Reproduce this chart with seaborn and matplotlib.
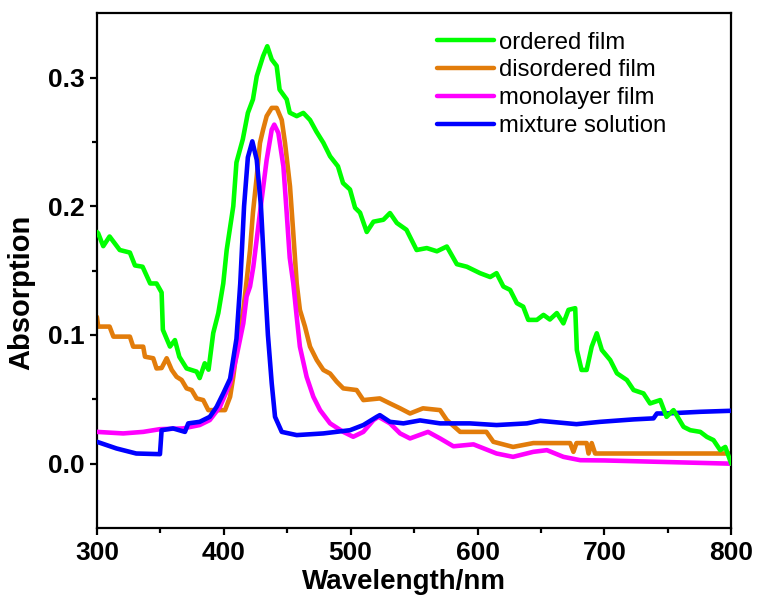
# Imports
import numpy as np
import pandas as pd
import matplotlib
matplotlib.use("Agg")
import matplotlib.pyplot as plt
from matplotlib.ticker import MultipleLocator, FormatStrFormatter
import seaborn as sns

# Dados (comprimento de onda em nm, absorcao)
ordered_x = [300, 301, 305, 310, 318, 326, 330, 336, 342, 347, 351, 352, 357.6, 361.5, 365, 370.7,
             378.6, 381, 385, 388, 391.7, 395.7, 399.6, 402.3, 407.5, 410, 415, 419, 423, 426, 431,
             434.3, 437.8, 441.7, 444, 449.6, 452, 457.5, 462.7, 468, 473, 478.5, 483.8, 490, 494,
             499.5, 503.5, 507.4, 512.7, 518, 525.8, 531, 536.4, 544, 552, 560, 568, 575.8, 583.7,
             591.6, 602, 610, 615, 620.4, 625.7, 631, 636, 640, 646.8, 652, 657, 662.5, 667.7, 671.7,
             677, 678.3, 682, 686, 690, 694, 698, 704.6, 709.9, 717.7, 723, 730.8, 736, 744, 749,
             754.5, 762.4, 767.7, 775.6, 780.8, 786, 791.3, 795.3, 800]
ordered_y = [0.180, 0.179, 0.169, 0.1765, 0.166, 0.164, 0.154, 0.153, 0.140, 0.140, 0.133, 0.104,
             0.091, 0.096, 0.083, 0.074, 0.0715, 0.0665, 0.078, 0.073, 0.1015, 0.117, 0.140, 0.166,
             0.200, 0.234, 0.252, 0.2725, 0.283, 0.301, 0.3166, 0.3243, 0.314, 0.309, 0.2906, 0.283,
             0.2727, 0.270, 0.2725, 0.267, 0.258, 0.2493, 0.2388, 0.231, 0.218, 0.213, 0.1988, 0.195,
             0.180, 0.188, 0.1895, 0.1947, 0.187, 0.1817, 0.166, 0.1675, 0.165, 0.1687, 0.155, 0.153,
             0.148, 0.145, 0.148, 0.1376, 0.135, 0.1247, 0.122, 0.1117, 0.1117, 0.1156, 0.112, 0.117,
             0.109, 0.1195, 0.1208, 0.0883, 0.0728, 0.0728, 0.0909, 0.1013, 0.0883, 0.0805, 0.0702,
             0.065, 0.0572, 0.0546, 0.0468, 0.0494, 0.0364, 0.0416, 0.0286, 0.026, 0.0247, 0.0208,
             0.0183, 0.0105, 0.013, 0.0]

disordered_x = [300, 301, 310, 313, 326, 328.6, 336.5, 337.9, 344.4, 347, 351, 355, 359, 362.8, 366.8,
                370.7, 374.7, 378.6, 383.8, 387.8, 401, 405, 407.5, 410.2, 415.4, 418, 420.7, 423, 426,
                428.5, 431, 433.8, 437.8, 441.7, 445.7, 448.3, 452.2, 454.8, 457.5, 460, 464, 468,
                473.3, 478.5, 483.8, 489, 494.2, 504.7, 510, 523, 531, 539, 546.8, 557, 570.5, 575.8,
                586.3, 607, 612.5, 628, 644, 673, 675.6, 678, 686, 687.5, 690, 692.7, 800]
disordered_y = [0.114, 0.1065, 0.1065, 0.0987, 0.0987, 0.0909, 0.0909, 0.0831, 0.0819, 0.074, 0.0743,
                0.0819, 0.0728, 0.0675, 0.065, 0.0585, 0.0572, 0.0507, 0.0494, 0.0416, 0.0416, 0.052,
                0.0675, 0.0883, 0.1195, 0.142, 0.166, 0.195, 0.223, 0.249, 0.2595, 0.270, 0.2764,
                0.2764, 0.267, 0.249, 0.2154, 0.179, 0.140, 0.1195, 0.1065, 0.0909, 0.0805, 0.0728,
                0.070, 0.0637, 0.0585, 0.0572, 0.0494, 0.0507, 0.0468, 0.043, 0.039, 0.043, 0.0416,
                0.0339, 0.0247, 0.0247, 0.017, 0.013, 0.016, 0.016, 0.0092, 0.016, 0.016, 0.0079,
                0.016, 0.0079, 0.0079]

monolayer_x = [300, 320.7, 336.5, 349.7, 368, 381, 389, 397, 405, 410, 415.4, 418, 420.7, 423.3,
               428.5, 433.8, 437.8, 439.8, 443, 447, 449.6, 452, 454.8, 457.5, 460, 465.3, 470.6,
               475.9, 483.8, 494.2, 502, 510, 518, 522, 531, 539, 546.8, 561, 570.5, 581, 596.8, 615,
               628, 644, 654.7, 667.7, 681, 700, 800]
monolayer_y = [0.0247, 0.0235, 0.0247, 0.0268, 0.0274, 0.030, 0.0339, 0.0442, 0.0624, 0.083, 0.109,
               0.1298, 0.1376, 0.153, 0.1947, 0.236, 0.2595, 0.2634, 0.257, 0.231, 0.1947, 0.160,
               0.140, 0.114, 0.0909, 0.0675, 0.052, 0.0416, 0.0313, 0.0247, 0.0209, 0.0247, 0.0339,
               0.0364, 0.0313, 0.0235, 0.0196, 0.0247, 0.0196, 0.0135, 0.0150, 0.0079, 0.0053, 0.0092,
               0.0105, 0.0053, 0.0027, 0.0025, 0.0]

mixture_x = [300, 315.5, 331, 349.7, 351, 360, 369.4, 372, 381, 389, 394.4, 399.6, 405, 410, 413,
             416, 419, 422.5, 426, 429.3, 432.5, 434.8, 437.8, 440.4, 445.7, 457.5, 478.5, 499.5, 510,
             520.6, 523, 531, 541.6, 554.7, 570.5, 594, 615, 638.9, 649.4, 678, 696.7, 723, 738.7,
             741.4, 749, 775.6, 800]
mixture_y = [0.017, 0.0118, 0.0079, 0.0074, 0.026, 0.0274, 0.0247, 0.0313, 0.0325, 0.0364, 0.0442,
             0.0546, 0.066, 0.097, 0.14, 0.2, 0.238, 0.2504, 0.236, 0.2, 0.14, 0.1, 0.0624, 0.0364,
             0.0247, 0.0222, 0.0235, 0.026, 0.030, 0.0364, 0.0377, 0.0325, 0.0313, 0.0336, 0.0313,
             0.0313, 0.030, 0.0313, 0.0333, 0.0307, 0.0325, 0.0344, 0.0352, 0.039, 0.039, 0.0403,
             0.0411]

series_names = ["ordered film", "disordered film", "monolayer film", "mixture solution"]
series_colors = ["#00FF00", "#E27C0A", "#FF00FF", "#0000FF"]
series_z = [5, 2, 3, 4]

# Monta um DataFrame longo
frames = []
for nome, xs, ys in zip(series_names,
                        [ordered_x, disordered_x, monolayer_x, mixture_x],
                        [ordered_y, disordered_y, monolayer_y, mixture_y]):
    frames.append(pd.DataFrame({"wavelength": xs, "absorption": ys, "sample": nome}))
df = pd.concat(frames, ignore_index=True)

sns.set_style("white")
plt.rcParams["font.family"] = ["Liberation Sans", "DejaVu Sans"]
plt.rcParams["text.color"] = "black"
plt.rcParams["axes.labelcolor"] = "black"

fig = plt.figure(figsize=(7.57, 5.98), dpi=100)
ax = fig.add_axes([0.128, 0.117, 0.838, 0.861])

for nome, cor, z in zip(series_names, series_colors, series_z):
    sns.lineplot(data=df[df["sample"] == nome], x="wavelength", y="absorption",
                 color=cor, linewidth=3.3, label=nome, estimator=None, sort=False,
                 ax=ax, zorder=z)
for line in ax.get_lines():
    line.set_solid_joinstyle("round")
    line.set_solid_capstyle("round")

ax.set_xlim(300, 800)
ax.set_ylim(-0.05, 0.35)
ax.xaxis.set_major_locator(MultipleLocator(100))
ax.xaxis.set_minor_locator(MultipleLocator(50))
ax.set_yticks([0.0, 0.1, 0.2, 0.3])
ax.set_yticks([0.05, 0.15, 0.25], minor=True)
ax.yaxis.set_major_formatter(FormatStrFormatter("%.1f"))

for s in ax.spines.values():
    s.set_color("black")
    s.set_linewidth(1.6)

ax.tick_params(axis="both", which="major", direction="out", length=5, width=1.6,
               color="black", labelcolor="black", bottom=True, left=True, top=False,
               right=False, pad=4)
ax.tick_params(axis="both", which="minor", direction="out", length=3.5, width=1.6,
               color="black", bottom=True, left=True, top=False, right=False)
for lab in ax.get_xticklabels() + ax.get_yticklabels():
    lab.set_fontweight("bold")
    lab.set_fontsize(19)

ax.set_xlabel("Wavelength/nm", fontsize=20, fontweight="bold")
ax.set_ylabel("Absorption", fontsize=21, fontweight="bold")
ax.xaxis.set_label_coords(0.484, -0.08)
ax.yaxis.set_label_coords(-0.097, 0.458)

leg = ax.legend(loc="upper left", bbox_to_anchor=(0.536, 0.964), frameon=False,
                fontsize=17.2, handlelength=2.4, handletextpad=0.2, labelspacing=0.24,
                borderaxespad=0, borderpad=0)
for h in leg.get_lines():
    h.set_linewidth(3.2)
    h.set_solid_capstyle("round")
for t in leg.get_texts():
    t.set_color("black")

fig.savefig("out.png", dpi=100)
